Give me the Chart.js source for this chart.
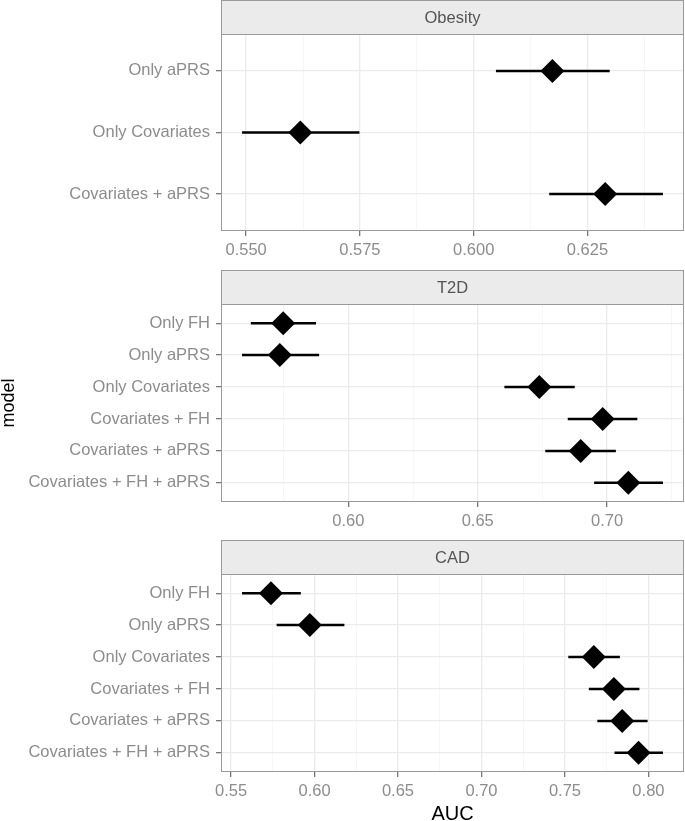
<!DOCTYPE html>
<html>
<head>
<meta charset="utf-8">
<script src="https://cdn.jsdelivr.net/npm/chart.js@4"></script>
<style>
  html, body { margin: 0; padding: 0; background: #fff; overflow: hidden; }
  canvas { position: absolute; left: 0; }
</style>
</head>
<body>
<canvas id="obesity" width="685" height="262" style="top:0px"></canvas>
<canvas id="t2d" width="685" height="262" style="top:270px"></canvas>
<canvas id="cad" width="685" height="281" style="top:540px"></canvas>
<script>
// values (AUC with 95% interval)
const obesityModels = ['Only aPRS', 'Only Covariates', 'Covariates + aPRS'];
const obesityAuc  = [0.6173, 0.5619, 0.6289];
const obesityLow  = [0.6049, 0.5491, 0.6166];
const obesityHigh = [0.6299, 0.5749, 0.6416];
const obesityTicks = [0.550, 0.575, 0.600, 0.625];
const obesityTickLabels = ['0.550', '0.575', '0.600', '0.625'];

const t2dModels = ['Only FH', 'Only aPRS', 'Only Covariates', 'Covariates + FH', 'Covariates + aPRS', 'Covariates + FH + aPRS'];
const t2dAuc  = [0.5748, 0.5735, 0.6738, 0.6983, 0.6898, 0.7082];
const t2dLow  = [0.5623, 0.5589, 0.6603, 0.6848, 0.6761, 0.6950];
const t2dHigh = [0.5875, 0.5887, 0.6875, 0.7117, 0.7034, 0.7216];
const t2dTicks = [0.60, 0.65, 0.70];
const t2dTickLabels = ['0.60', '0.65', '0.70'];

const cadModels = ['Only FH', 'Only aPRS', 'Only Covariates', 'Covariates + FH', 'Covariates + aPRS', 'Covariates + FH + aPRS'];
const cadAuc  = [0.5739, 0.5972, 0.7673, 0.7793, 0.7843, 0.7941];
const cadLow  = [0.5566, 0.5773, 0.7520, 0.7643, 0.7694, 0.7797];
const cadHigh = [0.5918, 0.6179, 0.7829, 0.7946, 0.7995, 0.8087];
const cadTicks = [0.55, 0.60, 0.65, 0.70, 0.75, 0.80];
const cadTickLabels = ['0.55', '0.60', '0.65', '0.70', '0.75', '0.80'];

const FONT = "'Liberation Sans', Arial, Helvetica, sans-serif";
Chart.defaults.font.family = FONT;

// grey facet strip + panel border, like ggplot theme_bw
const stripPlugin = {
    id: 'strip',
    afterDraw(chart, args, opts) {
        const ctx = chart.ctx;
        const a = chart.chartArea;
        const top = a.top - opts.height;
        const left = Math.round(a.left) + 0.5;
        const w = Math.round(a.right - a.left) - 1;
        ctx.save();
        ctx.fillStyle = '#ebebeb';
        ctx.fillRect(left, top + 0.5, w, opts.height);
        ctx.strokeStyle = '#9a9a9a';
        ctx.lineWidth = 1;
        ctx.strokeRect(left, top + 0.5, w, opts.height);
        ctx.strokeRect(left, Math.round(a.top) + 0.5, w, Math.round(a.bottom - a.top) - 1);
        ctx.fillStyle = '#555';
        ctx.font = '16.5px ' + FONT;
        ctx.textAlign = 'center';
        ctx.textBaseline = 'middle';
        ctx.fillText(opts.text, (a.left + a.right) / 2, top + opts.height / 2 + 1);
        ctx.restore();
    }
};

function makeChart(id, title, models, auc, low, high, majors, majorLabels, axisHeight, xTitle, yTitle) {
    // ggplot default: 5% expansion of the data range
    const lo = Math.min(...low), hi = Math.max(...high);
    const pad = (hi - lo) * 0.05;
    const xmin = lo - pad, xmax = hi + pad;
    const step = majors[1] - majors[0];

    const xTicks = majors.map((v, i) => ({ value: v, text: majorLabels[i] }));
    for (let v = majors[0] - step / 2; v <= xmax; v += step) {
        if (v >= xmin) xTicks.push({ value: v, minor: true });
    }
    xTicks.sort((a, b) => a.value - b.value);

    const errorSets = models.map((m, i) => ({
        label: m,
        data: [{ x: low[i], y: i }, { x: high[i], y: i }],
        showLine: true,
        borderColor: '#000',
        borderWidth: 2.5,
        pointRadius: 0,
        order: 1
    }));

    const points = {
        label: 'AUC',
        data: models.map((m, i) => ({ x: auc[i], y: i })),
        pointStyle: 'rectRot',
        pointRadius: 12,
        backgroundColor: '#000',
        borderColor: '#000',
        borderWidth: 0,
        order: 0
    };

    const tickFont = { family: FONT, size: 16.5 };

    return new Chart(document.getElementById(id), {
        type: 'scatter',
        data: { datasets: errorSets.concat([points]) },
        options: {
            responsive: false,
            animation: false,
            layout: { autoPadding: false, padding: { top: 34, right: 1, left: 0, bottom: 0 } },
            plugins: {
                legend: { display: false },
                tooltip: { enabled: false },
                strip: { text: title, height: 34 }
            },
            scales: {
                x: {
                    type: 'linear',
                    min: xmin,
                    max: xmax,
                    afterBuildTicks: s => { s.ticks = xTicks.map(t => Object.assign({}, t)); },
                    afterFit: s => {
                        s.height = axisHeight;
                        s.paddingLeft = 0;
                        s.paddingRight = 0;
                    },
                    ticks: {
                        autoSkip: false,
                        maxRotation: 0,
                        padding: 5,
                        color: '#8c8c8c',
                        font: tickFont,
                        callback: (v, i, ts) => ts[i].text || ''
                    },
                    grid: {
                        color: c => (c.tick && c.tick.minor) ? '#f4f4f4' : '#ebebeb',
                        lineWidth: c => (c.tick && c.tick.minor) ? 0.8 : 1.3,
                        tickColor: c => (c.tick && c.tick.minor) ? 'rgba(0,0,0,0)' : '#777',
                        tickLength: 5
                    },
                    border: { display: false },
                    title: xTitle ? {
                        display: true,
                        text: xTitle,
                        color: '#000',
                        font: { family: FONT, size: 20, lineHeight: 0.7 },
                        padding: { top: 0, bottom: 0 }
                    } : { display: false }
                },
                y: {
                    type: 'linear',
                    reverse: true,
                    min: -0.6,
                    max: models.length - 0.4,
                    afterBuildTicks: s => { s.ticks = models.map((m, i) => ({ value: i })); },
                    afterFit: s => {
                        s.width = 221;
                        s.paddingTop = 0;
                        s.paddingBottom = 0;
                    },
                    ticks: {
                        autoSkip: false,
                        padding: 6,
                        color: '#8c8c8c',
                        font: tickFont,
                        callback: v => models[v]
                    },
                    grid: { color: '#ebebeb', lineWidth: 1.3, tickColor: '#777', tickLength: 5 },
                    border: { display: false },
                    title: yTitle ? {
                        display: true,
                        text: yTitle,
                        color: '#000',
                        font: { family: "'Liberation Sans Narrow', " + FONT, size: 18, lineHeight: 1 },
                        padding: { top: 0, bottom: 0 }
                    } : { display: false }
                }
            }
        },
        plugins: [stripPlugin]
    });
}

makeChart('obesity', 'Obesity', obesityModels, obesityAuc, obesityLow, obesityHigh,
    obesityTicks, obesityTickLabels, 31, null, null);
makeChart('t2d', 'T2D', t2dModels, t2dAuc, t2dLow, t2dHigh,
    t2dTicks, t2dTickLabels, 30, null, 'model');
makeChart('cad', 'CAD', cadModels, cadAuc, cadLow, cadHigh,
    cadTicks, cadTickLabels, 49, 'AUC', null);
</script>
</body>
</html>
